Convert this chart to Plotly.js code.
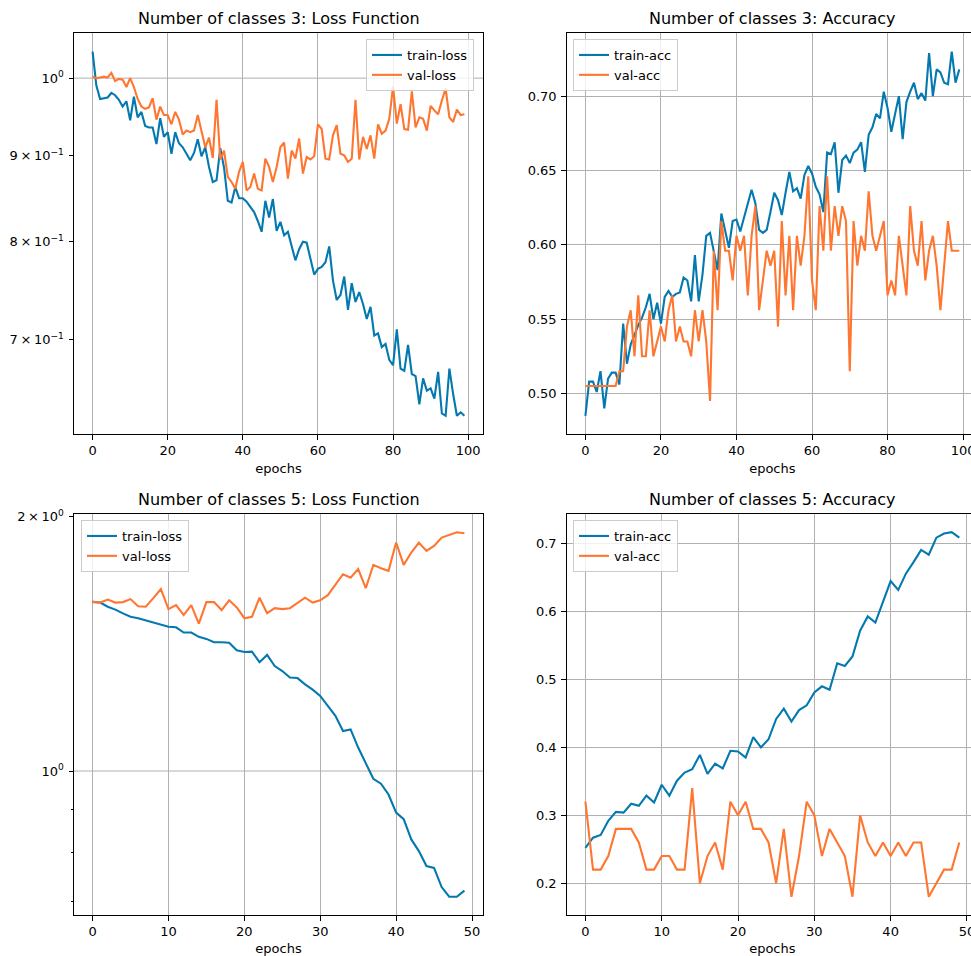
<!DOCTYPE html>
<html>
<head>
<meta charset="utf-8">
<script src="https://cdn.plot.ly/plotly-3.0.1.min.js"></script>
<style>
html, body { margin: 0; padding: 0; overflow: hidden; background: #fff; }
#chart { width: 985px; height: 956px; }
</style>
</head>
<body>
<div id="chart"></div>
<script>
// ---------- data ----------
const titles = [
  "Number of classes 3: Loss Function",
  "Number of classes 3: Accuracy",
  "Number of classes 5: Loss Function",
  "Number of classes 5: Accuracy"
];
const xLabel = "epochs";

const train3Loss = [
  1.037,0.990,0.972,0.973,0.974,0.980,0.977,0.971,0.962,0.969,
  0.944,0.975,0.948,0.955,0.937,0.935,0.935,0.914,0.947,0.923,
  0.929,0.902,0.929,0.915,0.910,0.902,0.894,0.903,0.920,0.899,
  0.910,0.886,0.868,0.870,0.909,0.885,0.846,0.844,0.862,0.849,
  0.849,0.845,0.839,0.833,0.823,0.811,0.846,0.827,0.848,0.812,
  0.822,0.807,0.811,0.794,0.780,0.792,0.800,0.799,0.782,0.765,
  0.771,0.773,0.778,0.795,0.759,0.739,0.744,0.763,0.729,0.756,
  0.737,0.747,0.735,0.720,0.732,0.704,0.706,0.693,0.696,0.681,
  0.676,0.710,0.673,0.671,0.695,0.668,0.666,0.641,0.664,0.653,
  0.655,0.646,0.670,0.633,0.631,0.673,0.650,0.631,0.634,0.631
];
const val3Loss = [
  1.002,1.000,1.001,1.002,1.001,1.007,0.996,0.999,0.998,0.988,
  1.000,0.988,0.972,0.962,0.959,0.961,0.973,0.945,0.962,0.951,
  0.951,0.939,0.955,0.945,0.926,0.931,0.929,0.931,0.951,0.931,
  0.910,0.922,0.897,0.971,0.895,0.906,0.874,0.868,0.860,0.880,
  0.892,0.858,0.862,0.878,0.860,0.858,0.896,0.886,0.868,0.886,
  0.910,0.916,0.872,0.906,0.896,0.921,0.878,0.898,0.895,0.899,
  0.939,0.933,0.896,0.895,0.925,0.938,0.902,0.900,0.892,0.896,
  0.971,0.895,0.923,0.908,0.925,0.896,0.939,0.927,0.931,0.946,
  0.989,0.940,0.965,0.933,0.932,0.982,0.935,0.948,0.946,0.931,
  0.963,0.957,0.952,0.970,0.986,0.948,0.942,0.958,0.951,0.952
];
const train3Acc = [
  0.485,0.508,0.508,0.501,0.515,0.490,0.510,0.514,0.514,0.506,
  0.547,0.520,0.533,0.540,0.546,0.551,0.558,0.567,0.550,0.561,
  0.547,0.565,0.569,0.565,0.567,0.568,0.578,0.576,0.562,0.593,
  0.562,0.580,0.606,0.608,0.596,0.583,0.621,0.610,0.598,0.616,
  0.617,0.609,0.618,0.628,0.637,0.628,0.610,0.608,0.610,0.622,
  0.635,0.630,0.620,0.635,0.649,0.636,0.638,0.631,0.647,0.653,
  0.648,0.639,0.634,0.622,0.662,0.661,0.669,0.635,0.657,0.660,
  0.655,0.662,0.664,0.669,0.649,0.674,0.679,0.688,0.685,0.703,
  0.692,0.676,0.688,0.700,0.671,0.696,0.703,0.709,0.698,0.702,
  0.697,0.729,0.700,0.718,0.716,0.709,0.708,0.730,0.709,0.718
];
const val3Acc = [
  0.505,0.505,0.505,0.505,0.505,0.505,0.505,0.505,0.505,0.515,
  0.515,0.545,0.556,0.525,0.566,0.525,0.525,0.556,0.525,0.535,
  0.545,0.535,0.556,0.566,0.535,0.545,0.535,0.535,0.525,0.556,
  0.535,0.556,0.535,0.495,0.596,0.556,0.616,0.596,0.596,0.576,
  0.606,0.596,0.606,0.566,0.606,0.626,0.556,0.576,0.596,0.586,
  0.596,0.545,0.616,0.566,0.606,0.556,0.606,0.586,0.606,0.646,
  0.576,0.556,0.626,0.596,0.646,0.596,0.626,0.606,0.626,0.616,
  0.515,0.616,0.586,0.606,0.596,0.636,0.606,0.596,0.606,0.616,
  0.566,0.576,0.566,0.606,0.586,0.566,0.626,0.596,0.586,0.616,
  0.576,0.596,0.606,0.586,0.556,0.586,0.616,0.596,0.596,0.596
];
const train5Loss = [
  1.585,1.582,1.564,1.552,1.536,1.522,1.516,1.507,1.501,1.491,
  1.481,1.479,1.458,1.458,1.441,1.433,1.420,1.420,1.418,1.389,
  1.383,1.384,1.345,1.372,1.331,1.313,1.290,1.288,1.266,1.248,
  1.227,1.194,1.162,1.115,1.120,1.066,1.023,0.979,0.966,0.938,
  0.893,0.877,0.830,0.804,0.772,0.768,0.729,0.710,0.710,0.722
];
const val5Loss = [
  1.585,1.582,1.595,1.582,1.584,1.597,1.566,1.564,1.601,1.641,
  1.554,1.571,1.529,1.571,1.494,1.584,1.584,1.550,1.592,1.561,
  1.516,1.522,1.603,1.537,1.558,1.554,1.558,1.582,1.603,1.582,
  1.592,1.614,1.660,1.709,1.693,1.733,1.645,1.753,1.737,1.725,
  1.863,1.753,1.813,1.863,1.821,1.846,1.888,1.902,1.916,1.911
];
const train5Acc = [
  0.252,0.267,0.271,0.292,0.305,0.304,0.317,0.314,0.329,0.319,
  0.345,0.329,0.351,0.363,0.368,0.389,0.361,0.376,0.369,0.395,
  0.394,0.385,0.415,0.400,0.412,0.442,0.457,0.438,0.455,0.462,
  0.481,0.490,0.485,0.524,0.520,0.534,0.572,0.593,0.584,0.616,
  0.645,0.632,0.656,0.673,0.691,0.684,0.709,0.715,0.717,0.709
];
const val5Acc = [
  0.32,0.22,0.22,0.24,0.28,0.28,0.28,0.26,0.22,0.22,
  0.24,0.24,0.22,0.22,0.34,0.20,0.24,0.26,0.22,0.32,
  0.30,0.32,0.28,0.28,0.26,0.20,0.28,0.18,0.24,0.32,
  0.30,0.24,0.28,0.26,0.24,0.18,0.30,0.26,0.24,0.26,
  0.24,0.26,0.24,0.26,0.26,0.18,0.20,0.22,0.22,0.26
];

const loss3TickVals = [0.7, 0.8, 0.9, 1.0];
const loss3TickText = ["7\u2009×\u200910<sup>−1</sup>", "8\u2009×\u200910<sup>−1</sup>", "9\u2009×\u200910<sup>−1</sup>", "10<sup>0</sup>"];
const loss5TickVals = [1.0, 2.0];
const loss5TickText = ["10<sup>0</sup>", "2\u2009×\u200910<sup>0</sup>"];
const loss5MinorVals = [0.7, 0.8, 0.9];
const logGridVals = [1.0];

// ---------- styling ----------
const BLUE = "#0479b0";
const ORANGE = "#ff7630";
const FONT = "DejaVu Sans, Liberation Sans, sans-serif";
const W = 985, H = 956;
const SMALL = 13;
const BIG = 16;

const ep3 = train3Loss.map((_, i) => i);
const ep5 = train5Loss.map((_, i) => i);

function linRange(arrs) {
  const all = [].concat(...arrs);
  const mn = Math.min(...all), mx = Math.max(...all);
  const m = (mx - mn) * 0.05;
  return [mn - m, mx + m];
}
function logRange(arrs) {
  const all = [].concat(...arrs).map(v => Math.log10(v));
  const mn = Math.min(...all), mx = Math.max(...all);
  const m = (mx - mn) * 0.05;
  return [mn - m, mx + m];
}

function line(x, y, name, color, xa, ya, leg) {
  return { x: x, y: y, name: name, type: "scatter", mode: "lines",
           line: { color: color, width: 2.1 }, xaxis: xa, yaxis: ya, legend: leg };
}

const traces = [
  line(ep3, train3Loss, "train-loss", BLUE, "x", "y", "legend"),
  line(ep3, val3Loss, "val-loss", ORANGE, "x", "y", "legend"),
  line(ep3, train3Acc, "train-acc", BLUE, "x2", "y2", "legend2"),
  line(ep3, val3Acc, "val-acc", ORANGE, "x2", "y2", "legend2"),
  line(ep5, train5Loss, "train-loss", BLUE, "x3", "y3", "legend3"),
  line(ep5, val5Loss, "val-loss", ORANGE, "x3", "y3", "legend3"),
  line(ep5, train5Acc, "train-acc", BLUE, "x4", "y4", "legend4"),
  line(ep5, val5Acc, "val-acc", ORANGE, "x4", "y4", "legend4")
];

const tickFont = { family: FONT, size: SMALL, color: "#000" };
const baseAxis = {
  showline: true, mirror: true, linecolor: "#000", linewidth: 1,
  ticks: "outside", ticklen: 4.5, tickwidth: 1, tickcolor: "#000",
  showgrid: true, gridcolor: "#b0b0b0", gridwidth: 1,
  zeroline: false, tickfont: tickFont, automargin: false
};
function xa(domain, range, dtick, anchor) {
  return Object.assign({}, baseAxis, {
    domain: domain, range: range, dtick: dtick, tick0: 0, anchor: anchor,
    title: { text: xLabel, font: { family: FONT, size: SMALL, color: "#000" }, standoff: 6 }
  });
}

const xDomL = [74 / W, 483 / W];
const xDomR = [566.7 / W, 978 / W];
const yDomT = [(H - 434) / H, (H - 33.3) / H];
const yDomB = [(H - 915) / H, (H - 514) / H];

const legendBase = {
  bgcolor: "rgba(255,255,255,0.8)", bordercolor: "#cccccc", borderwidth: 1,
  font: { family: FONT, size: SMALL, color: "#000" },
  xanchor: "left", yanchor: "top", itemwidth: 30, tracegroupgap: 0
};

function titleAnn(text, xref, yref) {
  return { text: text, xref: xref + " domain", yref: yref + " domain", x: 0.5, y: 1,
           xanchor: "center", yanchor: "bottom", yshift: 3, showarrow: false,
           font: { family: FONT, size: BIG, color: "#000" } };
}

const layout = {
  width: W, height: H,
  margin: { l: 0, r: 0, t: 0, b: 0 },
  paper_bgcolor: "#fff", plot_bgcolor: "#fff",
  font: { family: FONT, color: "#000" },
  xaxis: xa(xDomL, linRange([ep3]), 20, "y"),
  xaxis2: xa(xDomR, linRange([ep3]), 20, "y2"),
  xaxis3: xa(xDomL, linRange([ep5]), 10, "y3"),
  xaxis4: xa(xDomR, linRange([ep5]), 10, "y4"),
  yaxis: Object.assign({}, baseAxis, {
    domain: yDomT, anchor: "x", type: "log", range: logRange([train3Loss, val3Loss]),
    tickmode: "array", tickvals: loss3TickVals, ticktext: loss3TickText, showgrid: false,
    ticklabelstandoff: 2
  }),
  yaxis2: Object.assign({}, baseAxis, {
    domain: yDomT, anchor: "x2", range: linRange([train3Acc, val3Acc]),
    dtick: 0.05, tick0: 0, tickformat: ".2f", ticklabelstandoff: 2
  }),
  yaxis3: Object.assign({}, baseAxis, {
    domain: yDomB, anchor: "x3", type: "log", range: logRange([train5Loss, val5Loss]),
    tickmode: "array", tickvals: loss5TickVals, ticktext: loss5TickText, showgrid: false,
    ticklabelstandoff: 2,
    minor: { tickmode: "array", tickvals: loss5MinorVals, ticks: "outside", ticklen: 2.5,
             tickcolor: "#000", tickwidth: 1, showgrid: false }
  }),
  yaxis4: Object.assign({}, baseAxis, {
    domain: yDomB, anchor: "x4", range: linRange([train5Acc, val5Acc]),
    dtick: 0.1, tick0: 0, tickformat: ".1f", ticklabelstandoff: 2
  }),
  showlegend: true,
  legend: Object.assign({}, legendBase, { x: 366 / W, y: 1 - 39 / H }),
  legend2: Object.assign({}, legendBase, { x: 573 / W, y: 1 - 39 / H }),
  legend3: Object.assign({}, legendBase, { x: 81 / W, y: 1 - 520 / H }),
  legend4: Object.assign({}, legendBase, { x: 573 / W, y: 1 - 520 / H }),
  annotations: [
    titleAnn(titles[0], "x", "y"),
    titleAnn(titles[1], "x2", "y2"),
    titleAnn(titles[2], "x3", "y3"),
    titleAnn(titles[3], "x4", "y4")
  ],
  shapes: [
    { type: "line", layer: "below", xref: "x domain", x0: 0, x1: 1, yref: "y",
      y0: logGridVals[0], y1: logGridVals[0], line: { color: "#b0b0b0", width: 1 } },
    { type: "line", layer: "below", xref: "x3 domain", x0: 0, x1: 1, yref: "y3",
      y0: logGridVals[0], y1: logGridVals[0], line: { color: "#b0b0b0", width: 1 } }
  ]
};

Plotly.newPlot("chart", traces, layout, { staticPlot: true, displayModeBar: false });
</script>
</body>
</html>
